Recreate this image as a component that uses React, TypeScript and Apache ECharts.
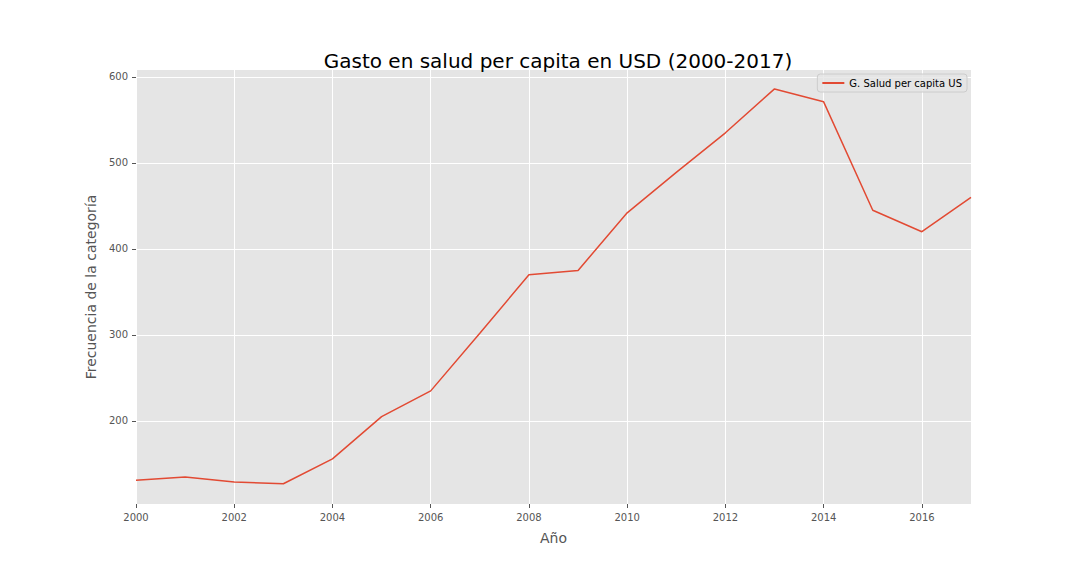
import React, { useEffect, useRef } from "react";
import * as echarts from "echarts";

const years = [2000, 2001, 2002, 2003, 2004, 2005, 2006, 2007, 2008, 2009, 2010, 2011, 2012, 2013, 2014, 2015, 2016, 2017];
const values = [131, 135, 129, 127, 156, 205, 235, 302, 370, 375, 442, 489, 535, 586, 571, 445, 420, 460];
const yTicks = [200, 300, 400, 500, 600];
const seriesName = "G. Salud per capita US";

export default function App() {
  const ref = useRef<HTMLDivElement>(null);
  useEffect(() => {
    const chart = echarts.init(ref.current!, null, { renderer: "svg" });
    const font = "DejaVu Sans";
    chart.setOption({
      animation: false,
      backgroundColor: "#ffffff",
      textStyle: { fontFamily: font },
      title: {
        text: "Gasto en salud per capita en USD (2000-2017)",
        left: 553, top: 46, textAlign: "center",
        textStyle: { fontSize: 20, fontWeight: "normal", color: "#000", fontFamily: font },
      },
      legend: {
        right: 113, top: 74, orient: "vertical",
        backgroundColor: "rgba(229,229,229,0.8)", borderColor: "#cccccc", borderWidth: 1, borderRadius: 3,
        padding: [4, 5], itemWidth: 22, itemHeight: 2, itemGap: 4,
        icon: "rect",
        textStyle: { fontSize: 10, color: "#000", fontFamily: font },
        data: [seriesName],
      },
      grid: { left: 136, right: 109, top: 70, bottom: 72, backgroundColor: "#e5e5e5", show: true, borderWidth: 0 },
      xAxis: {
        type: "value", min: 2000, max: 2017, interval: 2,
        name: "Año", nameLocation: "middle", nameGap: 27,
        nameTextStyle: { fontSize: 14, color: "#555", fontFamily: font },
        axisLine: { show: false }, axisTick: { show: true, length: 4, lineStyle: { color: "#555" } },
        axisLabel: { fontSize: 10, color: "#555", showMaxLabel: false, formatter: (v: number) => String(v) },
        splitLine: { show: true, lineStyle: { color: "#fff", width: 1 } },
      },
      yAxis: {
        type: "value", min: 103.5, max: 608,
        name: "Frecuencia de la categoría", nameLocation: "middle", nameGap: 38,
        nameTextStyle: { fontSize: 14, color: "#555", fontFamily: font },
        axisLine: { show: false },
        axisTick: { show: true, length: 4, customValues: yTicks, lineStyle: { color: "#555" } },
        axisLabel: { fontSize: 10, color: "#555", customValues: yTicks },
        splitLine: { show: true, lineStyle: { color: "#fff", width: 1 } },
      },
      series: [{
        name: seriesName, type: "line", showSymbol: false,
        data: years.map((y, i) => [y, values[i]]),
        lineStyle: { color: "#E24A33", width: 1.5 }, itemStyle: { color: "#E24A33" },
      }],
    });
    return () => chart.dispose();
  }, []);
  return <div ref={ref} style={{ position: "absolute", left: 0, top: 0, width: 1080, height: 576 }} />;
}
